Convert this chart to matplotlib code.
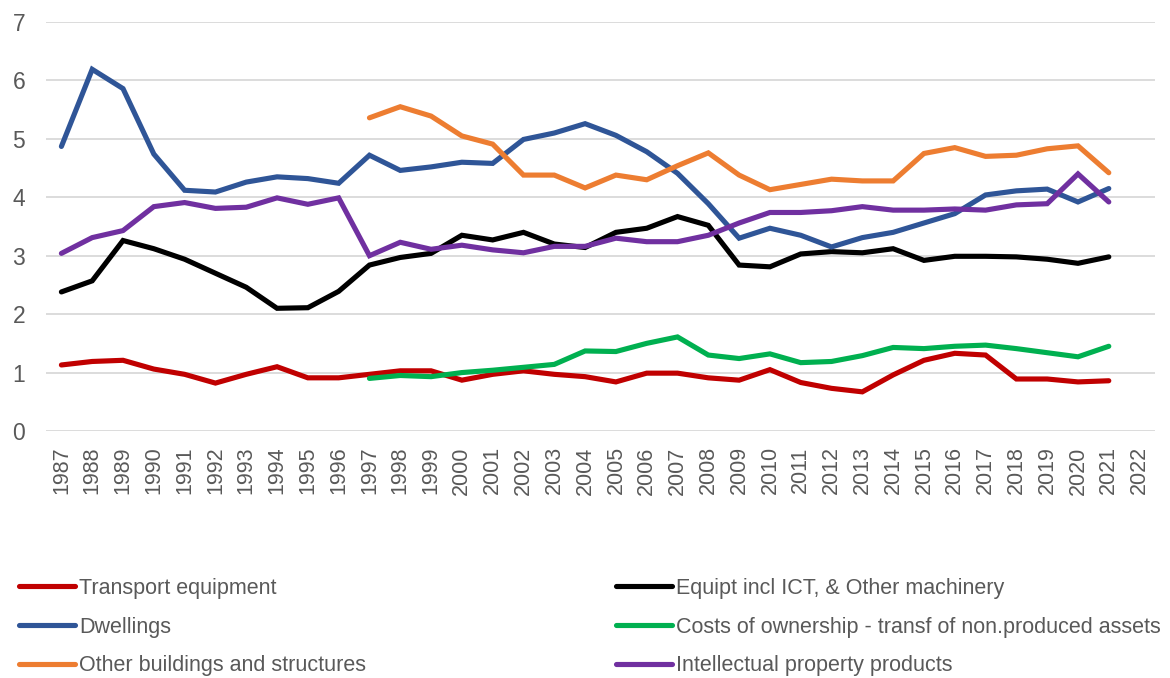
import matplotlib
matplotlib.use('Agg')
import matplotlib.pyplot as plt
import numpy as np

# 데이터
years = [str(y) for y in range(1987, 2023)]

transport = [1.13, 1.19, 1.21, 1.06, 0.97, 0.82, 0.97, 1.10, 0.91, 0.91,
             0.97, 1.03, 1.03, 0.87, 0.97, 1.03, 0.97, 0.93, 0.84, 0.99,
             0.99, 0.91, 0.87, 1.05, 0.83, 0.73, 0.67, 0.96, 1.21, 1.33,
             1.30, 0.89, 0.89, 0.84, 0.86]
equipt = [2.38, 2.57, 3.26, 3.12, 2.94, 2.70, 2.46, 2.10, 2.11, 2.39,
          2.84, 2.97, 3.04, 3.35, 3.27, 3.40, 3.20, 3.14, 3.40, 3.47,
          3.67, 3.52, 2.84, 2.81, 3.03, 3.07, 3.05, 3.12, 2.92, 2.99,
          2.99, 2.98, 2.94, 2.87, 2.98]
dwellings = [4.87, 6.19, 5.86, 4.74, 4.12, 4.09, 4.26, 4.35, 4.32, 4.24,
             4.72, 4.46, 4.52, 4.60, 4.58, 4.99, 5.10, 5.26, 5.06, 4.78,
             4.41, 3.89, 3.30, 3.47, 3.35, 3.15, 3.31, 3.40, 3.56, 3.72,
             4.04, 4.11, 4.14, 3.92, 4.15]
# 1997년부터 시작하는 시리즈
costs_own = [0.90, 0.95, 0.93, 1.00, 1.04, 1.09, 1.14, 1.37, 1.36, 1.50,
             1.61, 1.30, 1.24, 1.32, 1.17, 1.19, 1.29, 1.43, 1.41, 1.45,
             1.47, 1.41, 1.34, 1.27, 1.45]
other_build = [5.36, 5.55, 5.39, 5.05, 4.91, 4.38, 4.38, 4.16, 4.38, 4.30,
               4.54, 4.76, 4.38, 4.13, 4.22, 4.31, 4.28, 4.28, 4.75, 4.85,
               4.70, 4.72, 4.83, 4.88, 4.42]
intellectual = [3.04, 3.31, 3.43, 3.84, 3.91, 3.81, 3.83, 3.99, 3.88, 3.99,
                3.00, 3.23, 3.11, 3.18, 3.10, 3.05, 3.16, 3.16, 3.30, 3.24,
                3.24, 3.35, 3.56, 3.74, 3.74, 3.77, 3.84, 3.78, 3.78, 3.80,
                3.78, 3.87, 3.89, 4.40, 3.92]

series = [
  ('Transport equipment', transport, 0, '#C00000'),
  ('Equipt incl ICT, & Other machinery', equipt, 0, '#000000'),
  ('Dwellings', dwellings, 0, '#2F5597'),
  ('Costs of ownership - transf of non.produced assets', costs_own, 10, '#00B050'),
  ('Other buildings and structures', other_build, 10, '#ED7D31'),
  ('Intellectual property products', intellectual, 0, '#7030A0'),
]

plt.rcParams['font.family'] = ['Liberation Sans', 'DejaVu Sans']

fig = plt.figure(figsize=(11.7, 6.78), dpi=100)
ax = fig.add_axes([46 / 1170, 1 - 431 / 678, (1155 - 46) / 1170, (431 - 22) / 678])

x = np.arange(len(years))
handles = []
for label, vals, start, color in series:
  h, = ax.plot(x[start:start + len(vals)], vals, color=color, lw=3.7, label=label,
               solid_capstyle='round', solid_joinstyle='miter', zorder=3)
  handles.append(h)

ax.set_xlim(-0.5, len(years) - 0.5)
ax.set_ylim(0, 7)
ax.set_yticks(range(0, 8))
ax.set_xticks(x)
ax.set_xticklabels(years, rotation=90)
ax.grid(axis='y', color='#D9D9D9', lw=1.3, zorder=0)
for s in ax.spines.values():
  s.set_visible(False)
ax.tick_params(axis='both', length=0, colors='#595959', labelsize=15.5)
ax.tick_params(axis='y', labelsize=16.5, pad=15)
ax.tick_params(axis='x', pad=11)

# 범례는 행 우선 순서 (matplotlib은 열 우선으로 채움)
order = [0, 2, 4, 1, 3, 5]
fig.legend([handles[i] for i in order], [handles[i].get_label() for i in order],
           loc='upper left', bbox_to_anchor=(19 / 1170, 1 - 578 / 678),
           ncol=2, frameon=False, fontsize=15.5, labelcolor='#595959',
           handlelength=2.6, handletextpad=0.2, columnspacing=11.6,
           labelspacing=0.82, borderpad=0, borderaxespad=0)

fig.savefig('out.png', dpi=100)
